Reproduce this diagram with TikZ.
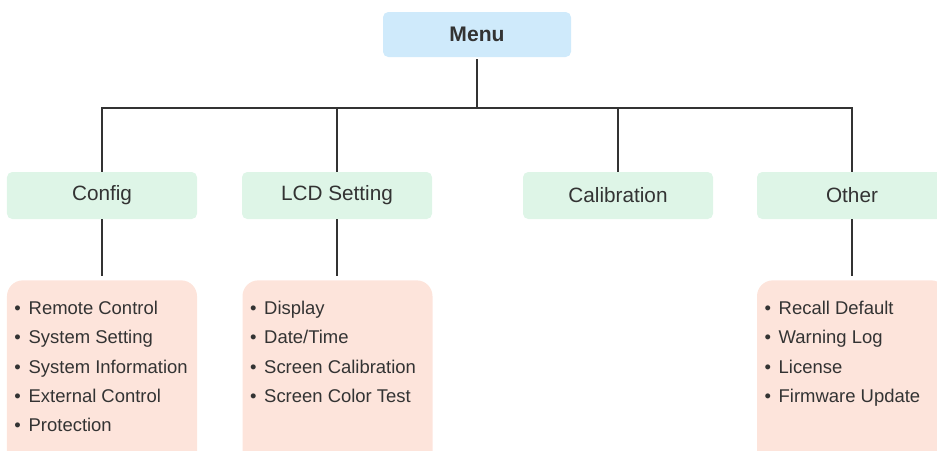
\documentclass[tikz,border=0pt]{standalone}
\usepackage{fontspec}
\setmainfont{Liberation Sans}
\usepackage{tikz}

\definecolor{menublue}{HTML}{CFEAFB}
\definecolor{headgreen}{HTML}{DEF5E7}
\definecolor{listpink}{HTML}{FDE4DB}
\definecolor{inkgray}{HTML}{333333}

\newcommand{\itm}{•\hspace{0.42em}}

\begin{document}
\begin{tikzpicture}[
	menubox/.style={fill=menublue, rounded corners=3pt, minimum width=3.76cm, minimum height=0.9cm, font=\fontsize{12}{14}\selectfont\bfseries, text=inkgray},
	headbox/.style={fill=headgreen, rounded corners=3pt, minimum width=3.8cm, minimum height=0.94cm, font=\fontsize{11.8}{14}\selectfont, text=inkgray},
	listbox/.style={fill=listpink, rounded corners=9pt, minimum width=3.8cm, minimum height=3.9cm, anchor=north},
	listtext/.style={anchor=north west, align=left, inner sep=0pt, font=\fontsize{10.5}{16.6}\selectfont, text=inkgray},
	link/.style={draw=inkgray, line width=1.1pt}
	]
	\useasboundingbox (0,0) rectangle (18.74,-9);
	
	\node (menu) at (9.54,-0.69) [menubox] {Menu};
	\coordinate (bus) at (0,-2.16);
	
	\node (config) at (2.04,-3.91) [headbox] {Config};
	\node (lcd) at (6.74,-3.91) [headbox] {LCD Setting};
	\node (calib) at (12.36,-3.91) [headbox] {Calibration};
	\node (other) at (17.04,-3.91) [headbox] {Other};
	
	\node (configlist) at (2.04,-5.6) [listbox] {};
	\node (lcdlist) at (6.75,-5.6) [listbox] {};
	\node (otherlist) at (17.04,-5.6) [listbox] {};
	
	\node (configitems) at ([xshift=0.15cm, yshift=-0.42cm]configlist.north west) [listtext] {%
		\itm Remote Control\\ \itm System Setting\\ \itm System Information\\ \itm External Control\\ \itm Protection};
	\node (lcditems) at ([xshift=0.15cm, yshift=-0.42cm]lcdlist.north west) [listtext] {%
		\itm Display\\ \itm Date/Time\\ \itm Screen Calibration\\ \itm Screen Color Test};
	\node (otheritems) at ([xshift=0.15cm, yshift=-0.42cm]otherlist.north west) [listtext] {%
		\itm Recall Default\\ \itm Warning Log\\ \itm License\\ \itm Firmware Update};
	
	% tree links
	\draw[link] ([yshift=-1pt]menu.south) -- (menu.south |- bus);
	\draw[link] (config.north) |- (other.north |- bus) -- (other.north);
	\draw[link] (lcd.north) -- (lcd.north |- bus);
	\draw[link] (calib.north) -- (calib.north |- bus);
	
	\draw[link] (config.south) -- ([yshift=2pt]config.south |- configlist.north);
	\draw[link] (lcd.south) -- ([yshift=2pt]lcd.south |- lcdlist.north);
	\draw[link] (other.south) -- ([yshift=2pt]other.south |- otherlist.north);
\end{tikzpicture}
\end{document}
